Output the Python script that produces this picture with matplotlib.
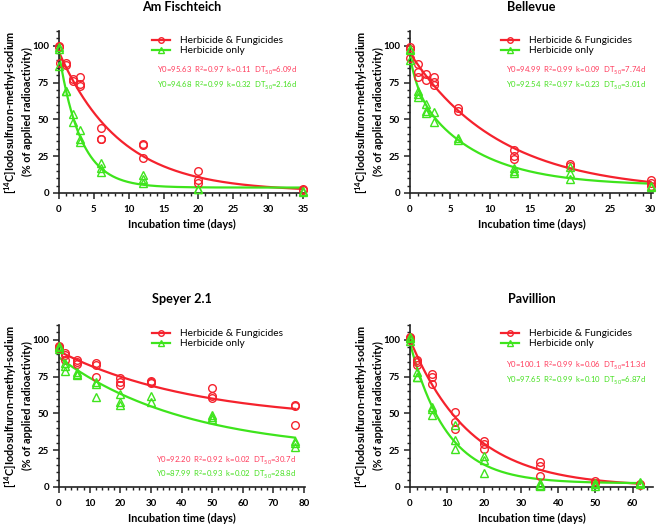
import numpy as np
import matplotlib
matplotlib.use('Agg')
import matplotlib.pyplot as plt
from matplotlib.lines import Line2D
from matplotlib.ticker import MultipleLocator

plt.rcParams['font.family'] = ['Lato', 'DejaVu Sans']
plt.rcParams['mathtext.fontset'] = 'custom'
plt.rcParams['mathtext.rm'] = 'Lato'
plt.rcParams['mathtext.bf'] = 'Lato:bold'
plt.rcParams['mathtext.default'] = 'regular'

RED = '#f5222d'
GREEN = '#3ee41c'
RED_TXT = '#ff3b5c'
GREEN_TXT = '#45e01f'

titles = ['Am Fischteich', 'Bellevue', 'Speyer 2.1', 'Pavillion']

# Am Fischteich
fis_t_hf = [0, 0, 0.15, 1, 1, 2, 2, 3, 3, 3, 6, 6, 6, 12, 12, 12, 20, 20, 20, 35, 35]
fis_hf = [100, 99, 88.5, 88.5, 87, 77.5, 76, 79, 74, 72.5, 44, 37, 36.5, 33, 32.5, 24, 15, 9, 7, 3, 2]
fis_t_h = [0, 0, 0, 1, 1, 2, 2, 3, 3, 3, 6, 6, 6, 12, 12, 12, 20, 20, 35, 35]
fis_h = [99, 98, 86, 69.5, 69, 53.5, 48, 43, 37, 34.5, 20.5, 17, 14, 12, 9.5, 7, 3, 2.5, 1, 1.5]

# Bellevue
bel_t_hf = [0, 0, 0, 1, 1, 1, 2, 2, 3, 3, 3, 6, 6, 13, 13, 13, 20, 20, 30, 30, 30]
bel_hf = [99, 98, 92, 87.5, 82, 79, 81, 77, 78.5, 75.5, 73.5, 58, 56, 29.5, 25, 23, 19.5, 18.5, 9, 6.5, 5]
bel_t_h = [0, 0, 0, 1, 1, 1, 2, 2, 2, 3, 3, 6, 6, 13, 13, 13, 20, 20, 20, 30, 30]
bel_h = [98, 97, 90, 69, 67, 65, 60.5, 55.5, 54, 55, 48, 37.5, 36, 17, 15, 13.5, 17.5, 13.5, 9.5, 5, 4]

# Speyer 2.1
spe_t_hf = [0, 0, 0, 2, 2, 2, 6, 6, 6, 12, 12, 12, 20, 20, 20, 30, 30, 30, 50, 50, 50, 77, 77, 77]
spe_hf = [96, 95, 94, 91, 89.5, 86, 86, 85, 83.5, 84.5, 83, 75, 74, 71, 69, 72, 71, 70.5, 67, 61.5, 60.5, 56, 55, 42]
spe_t_h = [0, 0, 0, 2, 2, 2, 6, 6, 6, 12, 12, 12, 20, 20, 20, 30, 30, 50, 50, 50, 77, 77, 77]
spe_h = [96, 95, 94, 84, 82, 79, 78, 76.5, 76, 71, 70, 61, 63, 58, 56, 61.5, 58, 49, 47.5, 46.5, 31, 30, 27.5]

# Pavillion
pav_t_hf = [0, 0, 0, 2, 2, 2, 6, 6, 6, 12, 12, 12, 20, 20, 20, 35, 35, 35, 50, 50, 62, 62]
pav_hf = [102, 101, 100, 86.5, 85, 83, 76.5, 75, 70, 51, 44, 39.5, 31, 29, 25.5, 17, 14.5, 7.5, 4, 3, 2, 1.5]
pav_t_h = [0, 0, 0, 2, 2, 2, 6, 6, 6, 12, 12, 12, 20, 20, 20, 35, 35, 35, 50, 50, 50, 62, 62, 62]
pav_h = [102, 101, 99, 78, 75, 74.5, 54, 53, 49, 42, 32, 26, 21, 18.5, 9.5, 3, 1.5, 1, 3, 2, 1, 3.5, 2.5, 2]

# fitted decay curves: start value, rate, plateau, fast amplitude, fast rate
fit_hf = [(95.63, np.log(2) / 6.09, 1.0, 0, 0),
          (94.99, np.log(2) / 7.74, 1.0, 0, 0),
          (92.20, np.log(2) / 30.7, 44.7, 0, 0),
          (100.1, np.log(2) / 11.3, 0.0, 0, 0)]
fit_h = [(94.68, np.log(2) / 2.16, 3.7, 0, 0),
         (92.54, 0.13, 5.0, 20, 1.0),
         (87.99, np.log(2) / 28.8, 23.4, 0, 0),
         (97.65, np.log(2) / 6.87, 2.5, 0, 0)]

labels_hf = ['Y0=95.63  R$^2$=0.97  k=0.11  DT$_{50}$=6.09d',
             'Y0=94.99  R$^2$=0.99  k=0.09  DT$_{50}$=7.74d',
             'Y0=92.20  R$^2$=0.92  k=0.02  DT$_{50}$=30.7d',
             'Y0=100.1  R$^2$=0.99  k=0.06  DT$_{50}$=11.3d']
labels_h = ['Y0=94.68  R$^2$=0.99  k=0.32  DT$_{50}$=2.16d',
            'Y0=92.54  R$^2$=0.97  k=0.23  DT$_{50}$=3.01d',
            'Y0=87.99  R$^2$=0.93  k=0.02  DT$_{50}$=28.8d',
            'Y0=97.65  R$^2$=0.99  k=0.10  DT$_{50}$=6.87d']

t_hf = [fis_t_hf, bel_t_hf, spe_t_hf, pav_t_hf]
v_hf = [fis_hf, bel_hf, spe_hf, pav_hf]
t_h = [fis_t_h, bel_t_h, spe_t_h, pav_t_h]
v_h = [fis_h, bel_h, spe_h, pav_h]
t_end = [35, 30, 77, 62]
xlims = [35.3, 30.3, 80.3, 65.5]
xmajor = [5, 5, 10, 10]
xminor = [1, 1, 2, 2]

ylab1 = '[$^{\\mathbf{14}}$C]Iodosulfuron-methyl-sodium'
ylab2 = '(% of applied radioactivity)'
xlab = 'Incubation time (days)'
leg_labels = ['Herbicide & Fungicides', 'Herbicide only']

W, H = 661, 528
fig = plt.figure(figsize=(W / 100, H / 100), dpi=100)
renderer = fig.canvas.get_renderer()


def fit_size(s, target, **kw):
    # font size that gives the text a width of target pixels
    size = 8.0
    for _ in range(3):
        tx = fig.text(0, 0, s, fontsize=size, **kw)
        w = tx.get_window_extent(renderer).width
        tx.remove()
        size *= target / w
    return size


fs_title = fit_size('Am Fischteich', 80, fontweight='bold')
fs_xlab = fit_size(xlab, 108, fontweight='bold')
fs_ylab = fit_size(ylab1, 165, fontweight='bold')
fs_leg = fit_size(leg_labels[0], 103)
fs_ann = fit_size(labels_hf[0], 141)
fs_tick = fit_size('100', 17, fontweight='bold')

# axes boxes in pixels: left, right, bottom(y=0), top
boxes = [(59, 305, 193, 31), (410, 653, 193, 31),
         (59, 305, 487, 325), (410, 653, 487, 325)]
title_y = [7, 7, 299, 299]
leg_pos = [(152, 36), (501, 36), (152, 329), (501, 329)]
ann_pos = [(157, 71, 86), (506, 71, 86), (156, 461, 475), (506, 366, 381)]


def decay(t, p):
    y0, k, plat, a_fast, k_fast = p
    return (y0 - plat - a_fast) * np.exp(-k * t) + a_fast * np.exp(-k_fast * t) + plat


for i in range(4):
    l, r, b, t = boxes[i]
    ax = fig.add_axes([l / W, 1 - b / H, (r - l) / W, (b - t) / H])
    tt = np.linspace(0, t_end[i], 300)
    ax.plot(tt, decay(tt, fit_hf[i]), color=RED, lw=1.6, zorder=2)
    ax.plot(tt, decay(tt, fit_h[i]), color=GREEN, lw=1.6, zorder=2)
    ax.plot(t_hf[i], v_hf[i], 'o', ms=5.5, mfc='none', mec=RED, mew=1.0, clip_on=False, zorder=3)
    ax.plot(t_h[i], v_h[i], '^', ms=5.5, mfc='none', mec=GREEN, mew=1.0, clip_on=False, zorder=3)

    ax.set_xlim(0, xlims[i])
    ax.set_ylim(0, 110)
    ax.spines['top'].set_visible(False)
    ax.spines['right'].set_visible(False)
    for s in ['left', 'bottom']:
        ax.spines[s].set_linewidth(1.2)
        ax.spines[s].set_color('#222222')
    ax.xaxis.set_major_locator(MultipleLocator(xmajor[i]))
    ax.xaxis.set_minor_locator(MultipleLocator(xminor[i]))
    ax.yaxis.set_major_locator(MultipleLocator(25))
    ax.yaxis.set_minor_locator(MultipleLocator(5))
    ax.tick_params(which='major', length=4, width=1.1, labelsize=fs_tick, pad=3, color='#222222')
    ax.tick_params(axis='x', which='major', pad=4.5)
    ax.tick_params(which='minor', length=2.5, width=1.0, color='#222222')
    for lab in ax.get_xticklabels() + ax.get_yticklabels():
        lab.set_fontweight('bold')

    ax.set_xlabel(xlab, fontsize=fs_xlab, fontweight='bold', labelpad=4)
    ax.set_ylabel(ylab1 + '\n' + ylab2, fontsize=fs_ylab, fontweight='bold', linespacing=1.35)
    ax.yaxis.label.set_va('center')
    ax.yaxis.set_label_coords(-41 / (r - l), 0.5)

    cx = (l + r) / 2
    fig.text(cx / W, 1 - title_y[i] / H, titles[i], ha='center', va='center',
             fontsize=fs_title, fontweight='bold')

    handles = [Line2D([], [], color=RED, lw=1.6, marker='o', ms=4, mfc='none', mec=RED),
               Line2D([], [], color=GREEN, lw=1.6, marker='^', ms=4, mfc='none', mec=GREEN)]
    lx, ly = leg_pos[i]
    ax.legend(handles, leg_labels, loc='upper left',
              bbox_to_anchor=(lx / W, 1 - ly / H), bbox_transform=fig.transFigure,
              frameon=False, fontsize=fs_leg, handlelength=1.8, handletextpad=0.95,
              labelspacing=0.1, borderpad=0, borderaxespad=0)

    ax_x, ay1, ay2 = ann_pos[i]
    fig.text(ax_x / W, 1 - ay1 / H, labels_hf[i], color=RED_TXT, fontsize=fs_ann,
             ha='left', va='center')
    fig.text(ax_x / W, 1 - ay2 / H, labels_h[i], color=GREEN_TXT, fontsize=fs_ann,
             ha='left', va='center')

fig.savefig('out.png', dpi=100)
